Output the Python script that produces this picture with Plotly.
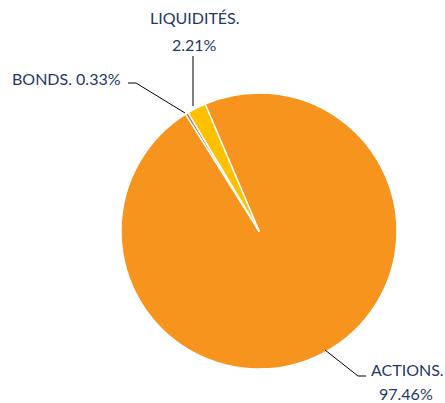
import plotly.graph_objects as go

labels = ["ACTIONS", "BONDS", "LIQUIDITÉS"]
values = [97.46, 0.33, 2.21]
colors = ["#F7941D", "#A8642A", "#FFC000"]
name_labels = ["ACTIONS.", "BONDS.", "LIQUIDITÉS."]
pct_labels = ["97.46%", "0.33%", "2.21%"]

W, H = 445, 403
cx, cy, r = 259, 231, 138

fig = go.Figure(go.Pie(
    labels=labels, values=values, sort=False, direction="clockwise",
    rotation=-23,
    marker=dict(colors=colors, line=dict(color="white", width=1.5)),
    textinfo="none", hoverinfo="label+percent", showlegend=False,
    domain=dict(x=[(cx - r) / W, (cx + r) / W], y=[(H - cy - r) / H, (H - cy + r) / H]),
))

def px(x):
    return x / W

def py(y):
    return 1 - y / H

font = dict(family="Lato, Open Sans, sans-serif", size=16, color="#1F3864")

def label(x, y, text, anchor="center"):
    fig.add_annotation(x=px(x), y=py(y), text=text, showarrow=False, font=font,
                       xanchor=anchor, yanchor="middle")

label(195, 18, name_labels[2])
label(194, 44, pct_labels[2])
label(10, 78, name_labels[1] + " " + pct_labels[1], anchor="left")
label(407, 369, name_labels[0])
label(406, 393, pct_labels[0])

line = dict(color="black", width=1)
def seg(x0, y0, x1, y1):
    fig.add_shape(type="line", xref="paper", yref="paper", x0=px(x0), y0=py(y0), x1=px(x1), y1=py(y1), line=line)

seg(193, 56, 193, 106)
seg(128, 83, 136, 83)
seg(136, 83, 185, 113)
seg(325, 350, 358, 376)
seg(358, 376, 366, 376)

fig.update_layout(width=W, height=H, margin=dict(l=0, r=0, t=0, b=0),
                  paper_bgcolor="white", plot_bgcolor="white")
fig.write_html("out.html", config={"displayModeBar": False},
               post_script="document.body.style.margin='0';")
